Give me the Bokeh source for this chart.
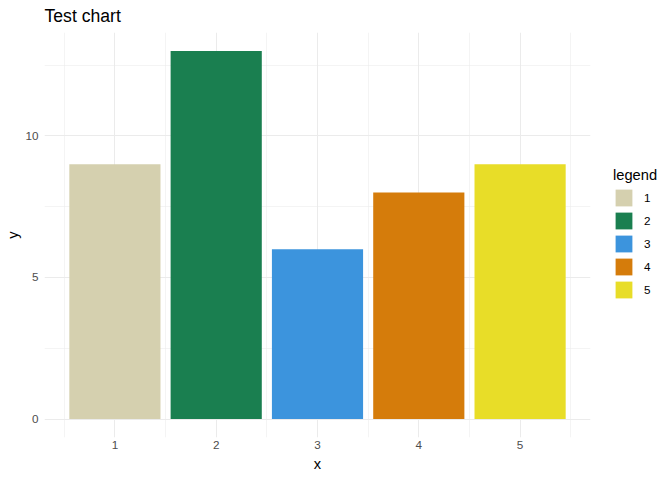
from bokeh.plotting import figure
from bokeh.models import ColumnDataSource, FixedTicker, Range1d, Legend, LegendItem, Spacer
from bokeh.layouts import row
from bokeh.embed import file_html
from bokeh.resources import INLINE

x_vals = [1, 2, 3, 4, 5]
y_vals = [9, 13, 6, 8, 9]
labels = ["1", "2", "3", "4", "5"]
colors = ["#D5D0AF", "#1A7F50", "#3C94DD", "#D57C0B", "#E8DD28"]
y_ticks = [0, 5, 10]
y_minor = [2.5, 7.5, 12.5]

FONT = "Liberation Sans"

src = ColumnDataSource(dict(x=x_vals, top=y_vals, label=labels, color=colors))

p = figure(frame_width=546, frame_height=405, output_backend="svg", toolbar_location=None,
           x_range=Range1d(0.305, 5.695), y_range=Range1d(-0.65, 13.65),
           min_border_left=37, min_border_right=73, min_border_top=24, min_border_bottom=20,
           title="Test chart")
p.outline_line_color = None
p.background_fill_color = "white"
p.border_fill_color = "white"

r = p.vbar(x="x", top="top", bottom=0, width=0.9, source=src,
           fill_color="color", line_color=None)

x_minor = [v - 0.5 for v in x_vals] + [x_vals[-1] + 0.5]
xt = FixedTicker(ticks=x_vals, minor_ticks=x_minor)
yt = FixedTicker(ticks=y_ticks, minor_ticks=y_minor)
p.xaxis.ticker = xt
p.yaxis.ticker = yt
p.xgrid.ticker = xt
p.ygrid.ticker = yt

for g in (p.xgrid, p.ygrid):
    g.grid_line_color = "#EBEBEB"
    g.grid_line_width = 1.07
    g.minor_grid_line_color = "#EBEBEB"
    g.minor_grid_line_width = 0.53

for ax in (p.xaxis, p.yaxis):
    ax.axis_line_color = None
    ax.major_tick_line_color = None
    ax.minor_tick_line_color = None
    ax.major_tick_out = 0
    ax.major_tick_in = 0
    ax.minor_tick_out = 0
    ax.minor_tick_in = 0
    ax.major_label_text_font = FONT
    ax.major_label_text_font_size = "11.7px"
    ax.major_label_text_color = "#4D4D4D"
    ax.major_label_text_line_height = 1.0
    ax.axis_label_text_font = FONT
    ax.axis_label_text_font_size = "14.7px"
    ax.axis_label_text_font_style = "normal"
    ax.axis_label_text_color = "black"
    ax.axis_label_text_line_height = 1.0

p.xaxis.major_label_standoff = 3
p.xaxis.axis_label_standoff = 4
p.yaxis.major_label_standoff = 6
p.yaxis.axis_label_standoff = 1

p.xaxis.axis_label = "x"
p.yaxis.axis_label = "y"

p.title.text_font = FONT
p.title.text_font_size = "17.6px"
p.title.text_font_style = "normal"
p.title.text_color = "black"
p.title.text_line_height = 0.75
p.title.vertical_align = "top"

items = [LegendItem(label=labels[i], renderers=[r], index=i) for i in range(len(labels))]
legend = Legend(items=items, location=(23, 137), title="legend")
legend.title_text_font = FONT
legend.title_text_font_size = "14.7px"
legend.title_text_font_style = "normal"
legend.title_text_color = "black"
legend.title_standoff = 4
legend.label_text_font = FONT
legend.label_text_font_size = "11.7px"
legend.label_text_color = "black"
legend.glyph_width = 21
legend.glyph_height = 21
legend.label_height = 21
legend.label_standoff = 10
legend.spacing = 2
legend.padding = 0
legend.margin = 0
legend.border_line_color = None
legend.background_fill_alpha = 0
p.add_layout(legend, "right")

layout = row(Spacer(width=2), p)
open("out.html", "w").write(file_html(layout, INLINE))
